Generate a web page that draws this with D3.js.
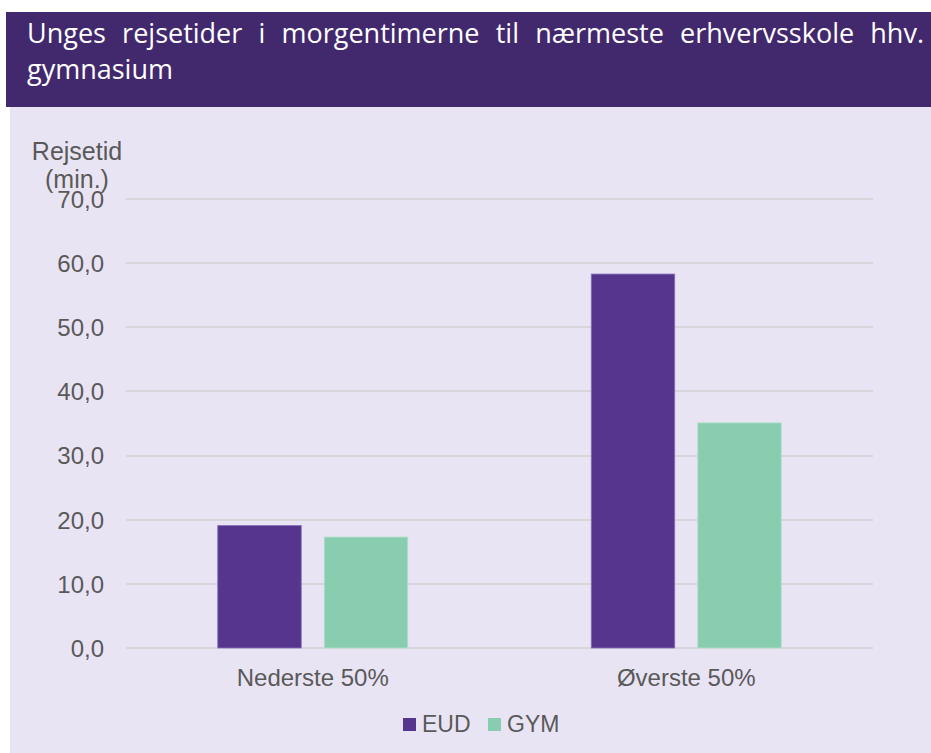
<!DOCTYPE html>
<html>
<head>
<meta charset="utf-8">
<script src="https://cdn.jsdelivr.net/npm/d3@7"></script>
<style>
  body { margin: 0; background: #ffffff; }
  text { font-family: "Liberation Sans", Arial, sans-serif; }
</style>
</head>
<body>
<script>
var width = 931;
var height = 753;

// data
var categories = ["Nederste 50%", "Øverste 50%"];
var series = ["EUD", "GYM"];
var eudValues = [19.1, 58.3];
var gymValues = [17.3, 35.1];
var yTicks = [0, 10, 20, 30, 40, 50, 60, 70];
var colors = ["#56358f", "#88cdb0"];

var svg = d3.select("body").append("svg")
  .attr("width", width)
  .attr("height", height);

// background panels
svg.append("rect")
  .attr("x", 10).attr("y", 107)
  .attr("width", width - 10).attr("height", height - 107)
  .attr("fill", "#e9e4f4");

svg.append("rect")
  .attr("x", 6).attr("y", 12)
  .attr("width", width - 6).attr("height", 95)
  .attr("fill", "#42296e");

// title, first line justified across the header
var titleLines = ["Unges rejsetider i morgentimerne til nærmeste erhvervsskole hhv.", "gymnasium"];
var tx0 = 27, tx1 = 924;
titleLines.forEach(function(line, i) {
  var t = svg.append("text")
    .attr("x", tx0)
    .attr("y", 43 + i * 36)
    .attr("fill", "#ffffff")
    .style("font-family", "'Open Sans', 'Noto Sans', sans-serif")
    .style("font-size", "27px")
    .text(line);
  if (i === 0) {
    var w = t.node().getComputedTextLength();
    var gaps = line.split(" ").length - 1;
    var extra = (tx1 - tx0 - w) / gaps;
    t.style("word-spacing", extra + "px");
  }
});

var margin = {left: 126, right: 873, top: 199, bottom: 648};

var y = d3.scaleLinear()
  .domain([0, 70])
  .range([margin.bottom, margin.top]);

var x0 = d3.scaleBand()
  .domain(categories)
  .range([margin.left, margin.right]);

var groupWidth = 190;
var x1 = d3.scaleBand()
  .domain(series)
  .range([0, groupWidth])
  .paddingInner(0.216);

// gridlines
svg.append("g")
  .selectAll("line")
  .data(yTicks)
  .enter().append("line")
  .attr("x1", margin.left)
  .attr("x2", margin.right)
  .attr("y1", function(d) { return Math.round(y(d)); })
  .attr("y2", function(d) { return Math.round(y(d)); })
  .attr("stroke", "#d8d5db")
  .attr("stroke-width", 2);

// y axis
var yAxis = svg.append("g")
  .attr("transform", "translate(" + margin.left + ",0)")
  .call(d3.axisLeft(y).tickValues(yTicks).tickSize(0).tickPadding(22)
    .tickFormat(function(d) { return d3.format(".1f")(d).replace(".", ","); }));
yAxis.select(".domain").remove();
yAxis.selectAll("text")
  .attr("fill", "#595959")
  .style("font-size", "24px")
  .attr("dy", "0.35em");

// y axis title
svg.append("text")
  .attr("x", 77).attr("y", 160)
  .attr("text-anchor", "middle")
  .attr("fill", "#595959")
  .style("font-size", "25px")
  .text("Rejsetid");
svg.append("text")
  .attr("x", 77).attr("y", 188)
  .attr("text-anchor", "middle")
  .attr("fill", "#595959")
  .style("font-size", "25px")
  .text("(min.)");

// bars
var rows = categories.map(function(c, i) {
  return {cat: c, vals: [{s: "EUD", v: eudValues[i]}, {s: "GYM", v: gymValues[i]}]};
});

var groups = svg.selectAll(".grp")
  .data(rows)
  .enter().append("g")
  .attr("class", "grp")
  .attr("transform", function(d) {
    return "translate(" + (x0(d.cat) + (x0.bandwidth() - groupWidth) / 2) + ",0)";
  });

groups.selectAll("rect")
  .data(function(d) { return d.vals; })
  .enter().append("rect")
  .attr("x", function(d) { return x1(d.s); })
  .attr("width", x1.bandwidth())
  .attr("y", function(d) { return y(d.v); })
  .attr("height", function(d) { return y(0) - y(d.v); })
  .attr("fill", function(d, i) { return colors[i]; })
  .attr("stroke", function(d, i) { return i === 0 ? "#8a70bb" : "#b3e0cc"; })
  .attr("stroke-width", 0.8);

// x axis labels
var xAxis = svg.append("g")
  .attr("transform", "translate(0," + margin.bottom + ")")
  .call(d3.axisBottom(x0).tickSize(0).tickPadding(21));
xAxis.select(".domain").remove();
xAxis.selectAll("text")
  .attr("fill", "#595959")
  .style("font-size", "24px");

// legend
var legendX = [403, 488];
var legend = svg.selectAll(".leg")
  .data(series)
  .enter().append("g")
  .attr("class", "leg")
  .attr("transform", function(d, i) { return "translate(" + legendX[i] + ",718)"; });
legend.append("rect")
  .attr("width", 13).attr("height", 13)
  .attr("fill", function(d, i) { return colors[i]; });
legend.append("text")
  .attr("x", 19).attr("y", 14)
  .attr("fill", "#595959")
  .style("font-size", "23px")
  .text(function(d) { return d; });
</script>
</body>
</html>
